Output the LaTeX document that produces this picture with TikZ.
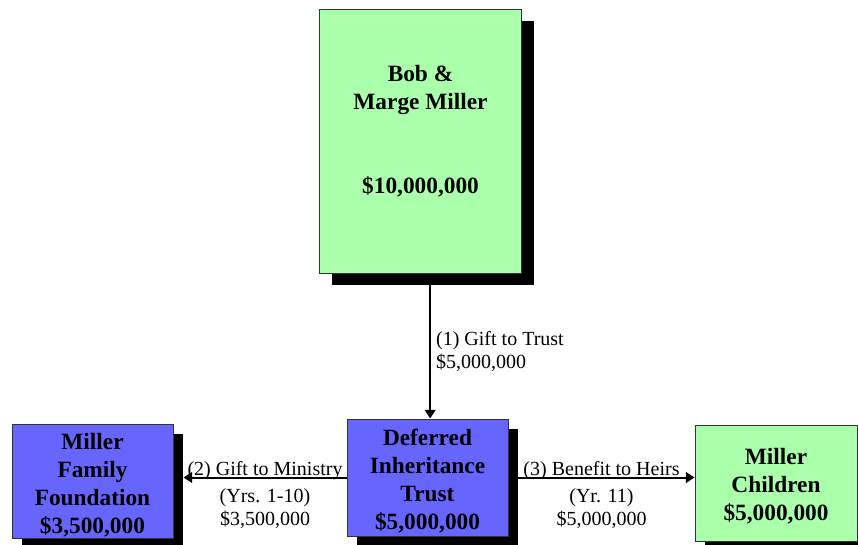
\documentclass[tikz,border=0pt]{standalone}
\usepackage{fontspec}
\setmainfont{Liberation Serif}
\usetikzlibrary{arrows.meta,shadows}

\definecolor{boxgreen}{RGB}{170,255,170}
\definecolor{boxblue}{RGB}{102,102,255}

\tikzset{every picture/.style={line width=0.75pt}}
\tikzset{
	boxtext/.style={align=center, inner sep=0pt, font=\fontsize{17.5}{21}\selectfont\bfseries},
	boxshadow/.style={drop shadow={shadow xshift=#1, shadow yshift=-#1, fill=black, opacity=1}},
	greenbox/.style={draw=black!80, fill=boxgreen},
	bluebox/.style={draw=black!80, fill=boxblue},
	flow/.style={line width=1.5pt, -{Triangle[length=6.5pt,width=8pt]}},
	flowtext/.style={inner sep=0pt, font=\fontsize{15}{17.25}\selectfont},
}

\begin{document}
\begin{tikzpicture}[x=0.75pt,y=0.75pt,yscale=-1,xscale=1]
	\useasboundingbox (0,0) rectangle (858,544);
	%Shape: Rectangle [id:parents]
	\node[greenbox, boxshadow=9pt, minimum width=151.5pt, minimum height=198pt] (couple) at (420.5,141) {};
	% Text Node
	\node[boxtext] (coupletext) at (420.5,131) {Bob \&\\Marge Miller\\[42pt]\$10,000,000};
	%Shape: Rectangle [id:trust]
	\node[bluebox, boxshadow=7.5pt, minimum width=120.75pt, minimum height=87.75pt] (trust) at (427.5,477.5) {};
	% Text Node
	\node[boxtext] (trusttext) at (427.5,481) {Deferred\\Inheritance\\Trust\\\$5,000,000};
	%Shape: Rectangle [id:foundation]
	\node[bluebox, boxshadow=7.5pt, minimum width=120.75pt, minimum height=85.5pt] (foundation) at (92.5,481) {};
	% Text Node
	\node[boxtext] (foundationtext) at (92.5,485) {Miller\\Family\\Foundation\\\$3,500,000};
	%Shape: Rectangle [id:children]
	\node[greenbox, boxshadow=7.5pt, minimum width=121.5pt, minimum height=87pt] (children) at (776,483) {};
	% Text Node
	\node[boxtext] (childrentext) at (776,486) {Miller\\Children\\\$5,000,000};

	%Straight Lines [id:gift1]
	\draw[flow] ([xshift=2pt]trust.north |- couple.south) -- ([xshift=2pt]trust.north)
		node[flowtext, pos=0.54, anchor=west, outer sep=4.5pt, align=left] (giftlabel) {(1) Gift to Trust\\\$5,000,000};
	%Straight Lines [id:gift2]
	\draw[flow] (trust.west) -- ([xshift=7.5pt]foundation.east |- trust.west)
		node[flowtext, midway, anchor=south, outer sep=-2pt] (ministrylabel) {(2) Gift to Ministry}
		node[flowtext, midway, anchor=north, outer sep=8pt, align=center] (ministryterms) {(Yrs. 1-10)\\\$3,500,000};
	%Straight Lines [id:gift3]
	\draw[flow] (trust.east) -- (children.west |- trust.east)
		node[flowtext, midway, anchor=south, outer sep=-2pt] (heirslabel) {(3) Benefit to Heirs}
		node[flowtext, midway, anchor=north, outer sep=8pt, align=center] (heirsterms) {(Yr. 11)\\\$5,000,000};
\end{tikzpicture}
\end{document}
